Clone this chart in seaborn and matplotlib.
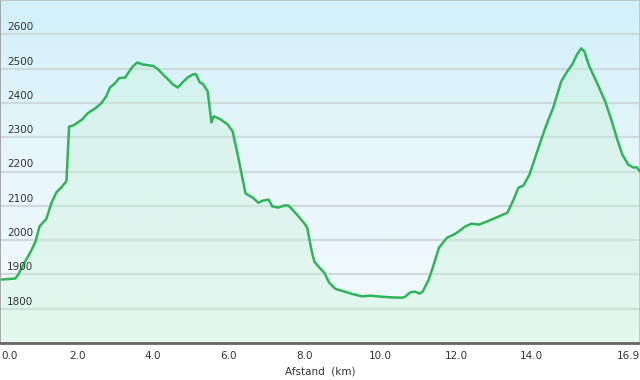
import numpy as np
import pandas as pd
import matplotlib
matplotlib.use("Agg")
import matplotlib.pyplot as plt
import seaborn as sns
from matplotlib.colors import LinearSegmentedColormap

# Data
distance_km = [0.0, 0.36, 0.44, 0.58, 0.76, 0.89, 1.0, 1.18, 1.32, 1.45, 1.58, 1.71, 1.78,
               1.89, 2.13, 2.26, 2.47, 2.63, 2.76, 2.86, 2.99, 3.1, 3.26, 3.39, 3.47, 3.58,
               3.73, 3.92, 4.0, 4.13, 4.26, 4.39, 4.52, 4.65, 4.78, 4.91, 5.05, 5.13, 5.23,
               5.31, 5.44, 5.54, 5.6, 5.78, 5.97, 6.1, 6.26, 6.44, 6.63, 6.78, 6.89, 7.05,
               7.15, 7.31, 7.47, 7.57, 7.68, 7.84, 8.0, 8.07, 8.18, 8.26, 8.39, 8.52, 8.65,
               8.81, 8.99, 9.26, 9.52, 9.73, 10.04, 10.31, 10.57, 10.65, 10.78, 10.91, 11.04,
               11.12, 11.28, 11.41, 11.55, 11.76, 11.94, 12.07, 12.23, 12.41, 12.6, 12.81,
               13.07, 13.36, 13.52, 13.65, 13.78, 13.94, 14.12, 14.26, 14.39, 14.57, 14.78,
               14.94, 15.07, 15.2, 15.31, 15.39, 15.52, 15.73, 15.94, 16.1, 16.26, 16.39,
               16.55, 16.68, 16.78, 16.86]
elevation_m = [1885, 1888, 1900, 1930, 1965, 1995, 2040, 2062, 2110, 2140, 2154, 2172, 2331,
               2334, 2352, 2369, 2384, 2399, 2419, 2445, 2457, 2472, 2474, 2495, 2507, 2518,
               2512, 2509, 2508, 2498, 2483, 2469, 2454, 2445, 2460, 2474, 2483, 2484, 2460,
               2456, 2434, 2343, 2361, 2352, 2337, 2317, 2235, 2136, 2124, 2109, 2115, 2118,
               2098, 2095, 2101, 2101, 2089, 2069, 2048, 2036, 1972, 1937, 1920, 1905, 1876,
               1858, 1852, 1843, 1836, 1838, 1835, 1833, 1832, 1834, 1847, 1850, 1844, 1850,
               1885, 1928, 1978, 2007, 2016, 2025, 2039, 2048, 2045, 2054, 2066, 2080, 2118,
               2153, 2159, 2191, 2250, 2296, 2337, 2387, 2463, 2492, 2512, 2542, 2559, 2550,
               2507, 2457, 2404, 2352, 2293, 2250, 2220, 2212, 2212, 2200]

y_ticks = [1800, 1900, 2000, 2100, 2200, 2300, 2400, 2500, 2600]
x_ticks = [0, 2, 4, 6, 8, 10, 12, 14, 16.86]
x_tick_labels = ["0.0", "2.0", "4.0", "6.0", "8.0", "10.0", "12.0", "14.0", "16.9"]
x_label = "Afstand  (km)"

df = pd.DataFrame({"dist": distance_km, "elev": elevation_m})

sns.set_style("white")
plt.rcParams["font.family"] = ["DejaVu Sans"]

fig = plt.figure(figsize=(6.4, 3.8), dpi=100)
ax = fig.add_axes([0.0, 37 / 380, 1.0, 343 / 380])

xmin, xmax = -0.045, 16.86
ymin, ymax = 1700, 2700
ax.set_xlim(xmin, xmax)
ax.set_ylim(ymin, ymax)

# background gradient (light blue at top, very pale at bottom)
bg = LinearSegmentedColormap.from_list("bg", ["#f2fbfb", "#e8f7fb", "#d2f0fa"])
grad = np.linspace(0, 1, 256).reshape(-1, 1)
ax.imshow(grad, aspect="auto", cmap=bg, origin="lower",
          extent=[xmin, xmax, ymin, ymax], zorder=0)

for yt in y_ticks:
    ax.axhline(yt, color="#cfdadc", lw=1.6, zorder=1)

ax.fill_between(df["dist"], df["elev"], ymin, color="#c6f2d6", alpha=0.35,
                lw=0, zorder=2)
sns.lineplot(data=df, x="dist", y="elev", ax=ax, color="#2fb558", lw=1.8,
             zorder=3, sort=False)

for yt in y_ticks:
    ax.annotate(str(yt), xy=(0, yt), xycoords=("axes fraction", "data"),
                xytext=(5, 1.5), textcoords="offset points", ha="left", va="bottom",
                fontsize=7.5, color="#333333", zorder=4)

ax.set_yticks([])
ax.set_xticks(x_ticks)
ax.set_xticklabels(x_tick_labels, fontsize=7.5, color="#333333")
labels = ax.get_xticklabels()
labels[0].set_ha("left")
labels[-1].set_ha("right")
ax.tick_params(axis="x", direction="out", length=4, width=1, color="#555555", pad=2)
ax.set_xlabel(x_label, fontsize=7.5, color="#333333", labelpad=4)
ax.set_ylabel("")

for side in ["top", "right", "left"]:
    ax.spines[side].set_color("#c0c0c0")
    ax.spines[side].set_linewidth(1.2)
ax.spines["left"].set_color("#999999")
ax.spines["bottom"].set_color("#666666")
ax.spines["bottom"].set_linewidth(2)

fig.savefig("out.png", dpi=100)
